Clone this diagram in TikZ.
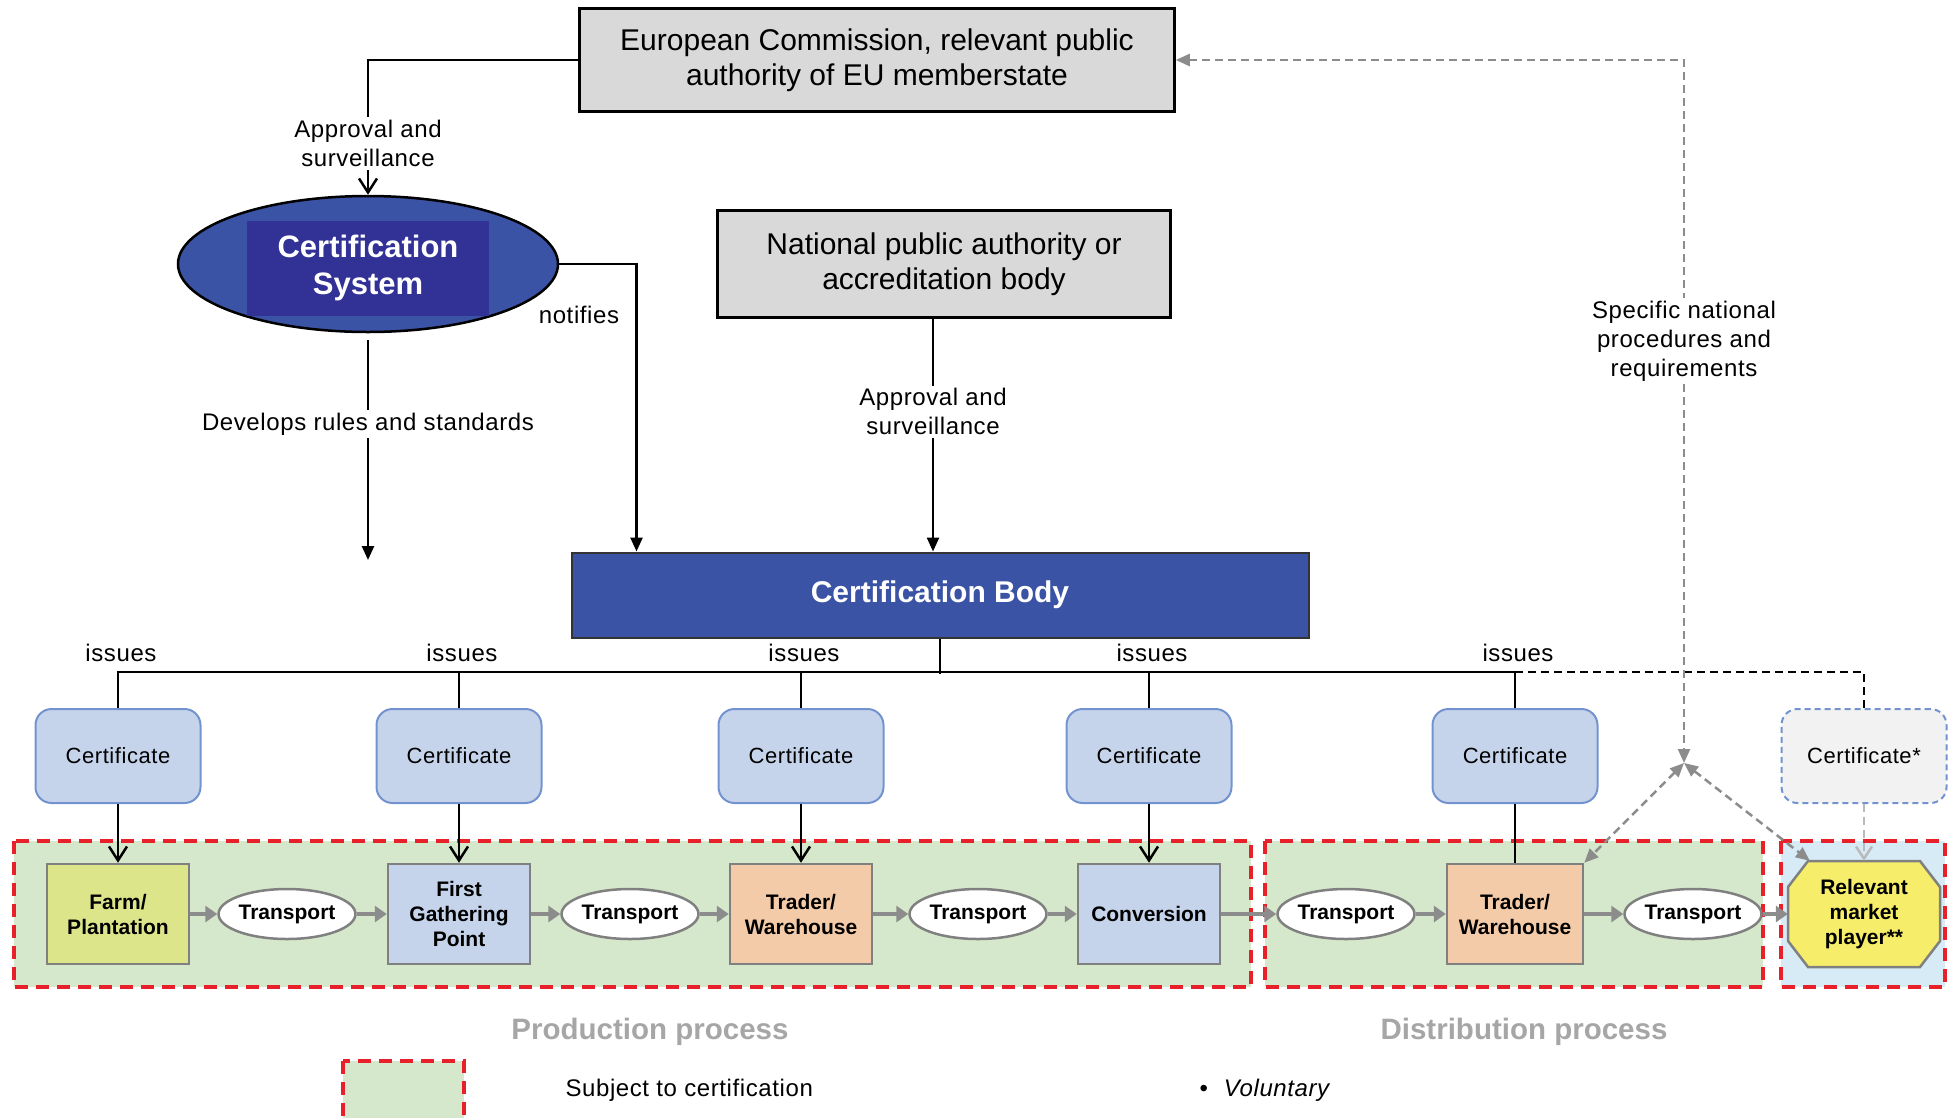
\documentclass[tikz,border=0pt]{standalone}
\usepackage{fontspec}
\setmainfont{Liberation Sans}
\newfontfamily\lblfont[LetterSpace=2.5]{Liberation Sans}
\usetikzlibrary{arrows.meta,positioning,shapes.geometric}

\definecolor{boxgray}{HTML}{D9D9D9}
\definecolor{cbblue}{HTML}{3A53A4}
\definecolor{csdark}{HTML}{313196}
\definecolor{certfill}{HTML}{C6D4EB}
\definecolor{certline}{HTML}{7393D0}
\definecolor{stageline}{HTML}{808080}
\definecolor{farm}{HTML}{DDE58B}
\definecolor{peach}{HTML}{F4CBA8}
\definecolor{regred}{HTML}{E8202A}
\definecolor{regreen}{HTML}{D6E8CB}
\definecolor{mktblue}{HTML}{D6EBF5}
\definecolor{mpyellow}{HTML}{F6EE6A}
\definecolor{arrgray}{HTML}{8C8C8C}
\definecolor{lblgray}{HTML}{A6A6A6}
\definecolor{certsix}{HTML}{F2F2F2}

\begin{document}
\begin{tikzpicture}[x=1pt,y=-1pt,
  gbox/.style={draw,line width=2.5pt,fill=boxgray,inner sep=0pt,align=center,font=\fontsize{30}{35}\selectfont},
  bluebox/.style={draw=black!80,line width=2pt,fill=cbblue,text=white,inner sep=0pt,align=center,font=\bfseries\fontsize{30}{37}\selectfont},
  csell/.style={ellipse,draw,line width=2.5pt,fill=cbblue,minimum width=380pt,minimum height=136pt,inner sep=0pt},
  csin/.style={fill=csdark,text=white,minimum width=242pt,minimum height=95pt,inner sep=0pt,align=center,font=\bfseries\fontsize{31}{37}\selectfont},
  cert/.style={draw=certline,line width=2pt,fill=certfill,rounded corners=16pt,minimum width=165pt,minimum height=94pt,inner sep=0pt,font=\lblfont\fontsize{22}{26}\selectfont},
  stage/.style={draw=stageline,line width=2.5pt,minimum width=142pt,minimum height=100pt,inner sep=0pt,align=center,font=\bfseries\fontsize{21}{25}\selectfont},
  trans/.style={ellipse,draw=stageline,line width=2.5pt,fill=white,minimum width=136pt,minimum height=50pt,inner sep=0pt,font=\bfseries\fontsize{21}{25}\selectfont},
  mptext/.style={minimum width=152pt,minimum height=106pt,inner sep=0pt,align=center,font=\bfseries\fontsize{21}{25}\selectfont},
  lbl/.style={fill=white,inner sep=3pt,align=center,font=\lblfont\fontsize{24}{29}\selectfont},
  region/.style={draw=regred,line width=4.5pt,dash pattern=on 13pt off 8pt},
  conn/.style={line width=2.5pt},
  arr/.style={line width=2.5pt,-{Triangle[length=14pt,width=12pt]}},
  varr/.style={line width=2.5pt,-{Straight Barb[length=14pt,width=18pt]}},
  garr/.style={draw=arrgray,line width=4pt,-{Triangle[length=12pt,width=16pt]}},
  gdash/.style={draw=arrgray,line width=2.5pt,dash pattern=on 8pt off 5pt},
  gtips/.style={{Triangle[length=14pt,width=12pt]}-{Triangle[length=14pt,width=12pt]}},
  plbl/.style={text=lblgray,font=\bfseries\fontsize{29.5}{34}\selectfont}
]
\useasboundingbox (0,0) rectangle (1951,1117);

\draw[region,fill=regreen] (14,841) rectangle (1251,987);
\draw[region,fill=regreen] (1265,841) rectangle (1763,987);
\draw[region,fill=mktblue] (1781,841) rectangle (1945,987);

\node[gbox,minimum width=595pt,minimum height=103pt] (ec) at (877,60) {European Commission, relevant public\\authority of EU memberstate};
\node[gbox,minimum width=453pt,minimum height=107pt] (npa) at (944,264) {National public authority or\\accreditation body};
\node[csell] (cs) at (368,264) {};
\node[csin] (csi) at (368,268) {Certification\\System};
\node[bluebox,minimum width=737pt,minimum height=85pt] (cb) at (940,595) {Certification Body};

\draw[varr] (ec.west) -| (cs.north) node[lbl,pos=0.81] (aps1) {Approval and\\surveillance};
\draw[arr] (cs.east) -| ([xshift=66pt]cb.north west);
\node[font=\lblfont\fontsize{24}{29}\selectfont] (ntf) at (579,315) {notifies};
\coordinate (dv) at (368,560);
\draw[arr,shorten <=7pt] (cs.south) -- (dv) node[lbl,pos=0.4] (drs) {Develops rules and standards};
\coordinate (npx) at ([xshift=-11pt]npa.south);
\draw[arr] (npx) -- (npx |- cb.north) node[lbl,pos=0.4] (aps2) {Approval and\\surveillance};

\foreach \n/\x in {c1/118,c2/459,c3/801,c4/1149,c5/1515}
  \node[cert] (\n) at (\x,756) {Certificate};
\node[cert,fill=certsix,dash pattern=on 6pt off 4pt] (c6) at (1864,756) {Certificate*};

\draw[conn] (cb.south) -- ++(0,35);
\draw[conn] (c1.north) -- ++(0,-36) -| (c5.north);
\foreach \n in {c2,c3,c4}
  \draw[conn] (\n.north) -- ++(0,-36);
\draw[conn,dash pattern=on 8pt off 5pt] (c5.north) ++(0,-36) -| (c6.north);
\foreach \n in {c1,c2,c3,c4,c5}
  \node[font=\lblfont\fontsize{24}{28}\selectfont] (is\n) at ([xshift=3pt,yshift=55pt]\n.north) {issues};

\node[stage,fill=farm] (fp) at (118,914) {Farm/\\Plantation};
\node[trans] (t1) at (287,914) {Transport};
\node[stage,fill=certfill] (fg) at (459,914) {First\\Gathering\\Point};
\node[trans] (t2) at (630,914) {Transport};
\node[stage,fill=peach] (tw1) at (801,914) {Trader/\\Warehouse};
\node[trans] (t3) at (978,914) {Transport};
\node[stage,fill=certfill] (cv) at (1149,914) {Conversion};
\node[trans] (t4) at (1346,914) {Transport};
\node[stage,fill=peach,minimum width=136pt] (tw2) at (1515,914) {Trader/\\Warehouse};
\node[trans] (t5) at (1693,914) {Transport};
\coordinate (mpc) at (1864,914);
\draw[draw=stageline,line width=2.5pt,fill=mpyellow] (mpc) ++(-76,-27) -- ++(20,-26) -- ++(112,0) -- ++(20,26) -- ++(0,54) -- ++(-20,26) -- ++(-112,0) -- ++(-20,-26) -- cycle;
\node[mptext] (mp) at (mpc) {Relevant\\market\\player**};

\foreach \a/\b in {fp/t1,t1/fg,fg/t2,t2/tw1,tw1/t3,t3/cv,cv/t4,t4/tw2,tw2/t5}
  \draw[garr] (\a) -- (\b);
\draw[garr] (t5) -- (mp.west);

\foreach \a/\b in {c1/fp,c2/fg,c3/tw1,c4/cv}
  \draw[varr] (\a) -- (\b);
\draw[conn] (c5) -- (tw2);
\draw[gdash,draw=arrgray!60,-{Straight Barb[length=12pt,width=16pt]}] (c6) -- (mp);

\coordinate (jn) at (1684,763);
\draw[gdash,gtips] (ec.east) -| (jn) node[lbl,pos=0.7] (snp) {Specific national\\procedures and\\requirements};
\draw[gdash,gtips] (jn) -- (tw2.north east);
\draw[gdash,gtips] (jn) -- ([xshift=22pt]mp.north west);

\node[plbl] (prod) at (650,1032) {Production process};
\node[plbl] (dist) at (1524,1032) {Distribution process};
\draw[region,fill=regreen] (343,1061) rectangle (464,1122);
\node[anchor=west,font=\lblfont\fontsize{24}{28}\selectfont] (leg) at (562,1090) {Subject to certification};
\node[anchor=west,font=\lblfont\fontsize{24}{28}\selectfont] (vol) at (1196,1090) {\textbullet\hspace{16pt}\textit{Voluntary}};
\end{tikzpicture}
\end{document}
